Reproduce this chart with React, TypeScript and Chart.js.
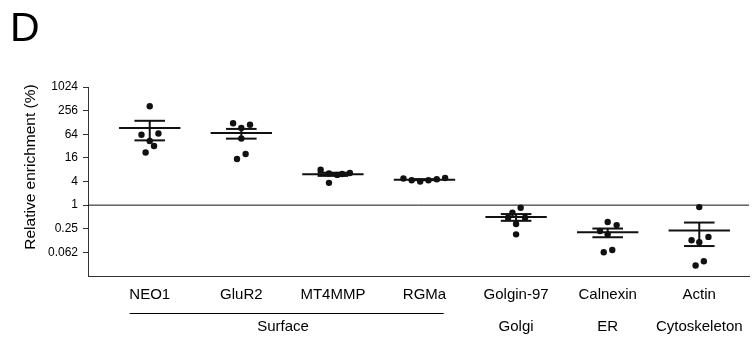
import React, { useEffect, useRef } from 'react';
import { Chart, registerables } from 'chart.js';

Chart.register(...registerables);

const FONT = '"Liberation Sans", Arial, Helvetica, sans-serif';

// ---- data ----
const categories = ['NEO1', 'GluR2', 'MT4MMP', 'RGMa', 'Golgin-97', 'Calnexin', 'Actin'];

const neo1 = [331, 62, 67, 43, 32, 22];
const gluR2 = [122, 112, 92, 50, 20, 15];
const mt4mmp = [8.0, 6.4, 5.9, 6.2, 6.6, 3.7];
const rgma = [4.75, 4.29, 3.98, 4.29, 4.55, 4.92];
const golgin97 = [0.86, 0.64, 0.48, 0.48, 0.33, 0.18];
const calnexin = [0.37, 0.31, 0.22, 0.18, 0.072, 0.063];
const actin = [0.89, 0.127, 0.155, 0.113, 0.037, 0.029];

// horizontal scatter of the dots within a column (category units)
const neo1Jitter = [0, -0.09, 0.095, 0, 0.047, -0.045];
const gluR2Jitter = [-0.09, 0.095, 0, 0, 0.047, -0.047];
const mt4mmpJitter = [-0.134, -0.043, 0.047, 0.1, 0.185, -0.043];
const rgmaJitter = [-0.23, -0.14, -0.047, 0.043, 0.134, 0.225];
const golgin97Jitter = [0.05, -0.04, -0.087, 0.098, 0, 0];
const calnexinJitter = [0, 0.098, -0.084, 0, 0.05, -0.043];
const actinJitter = [0, -0.084, 0.1, 0, 0.05, -0.04];

const yTickValues = [1024, 256, 64, 16, 4, 1, 0.25, 0.0625];
const yTickLabels = ['1024', '256', '64', '16', '4', '1', '0.25', '0.062'];

const groupLabels = ['Surface', 'Golgi', 'ER', 'Cytoskeleton'];
const groupFrom = [0, 4, 5, 6];
const groupTo = [3, 4, 5, 6];

const series = [neo1, gluR2, mt4mmp, rgma, golgin97, calnexin, actin];
const jitters = [neo1Jitter, gluR2Jitter, mt4mmpJitter, rgmaJitter, golgin97Jitter, calnexinJitter, actinJitter];

const X_MIN = -0.674;
const X_MAX = 6.543;
const Y_MIN = 1 / 64;
const Y_MAX = 1024;
const MEAN_HALF = 0.335;
const CAP_HALF = 0.167;
const INK = '#111111';

function mean(a: number[]) {
  return a.reduce((s, v) => s + v, 0) / a.length;
}
function sem(a: number[]) {
  const m = mean(a);
  const v = a.reduce((s, x) => s + (x - m) * (x - m), 0) / (a.length - 1);
  return Math.sqrt(v) / Math.sqrt(a.length);
}

const annotations = {
  id: 'annotations',
  afterDraw(chart: any) {
    const ctx = chart.ctx;
    const xs = chart.scales.x;
    ctx.save();
    ctx.fillStyle = '#000';
    // panel letter
    ctx.font = `41px ${FONT}`;
    ctx.textAlign = 'left';
    ctx.textBaseline = 'alphabetic';
    ctx.fillText('D', 10, 41);
    // y axis title
    ctx.save();
    ctx.translate(31, 167);
    ctx.rotate(-Math.PI / 2);
    ctx.font = `15.5px ${FONT}`;
    ctx.textAlign = 'center';
    ctx.textBaseline = 'middle';
    ctx.fillText('Relative enrichment (%)', 0, 0);
    ctx.restore();
    // group labels
    ctx.font = `15px ${FONT}`;
    ctx.textAlign = 'center';
    ctx.textBaseline = 'alphabetic';
    groupLabels.forEach((g, i) => {
      const span = groupTo[i] > groupFrom[i];
      const cx = (xs.getPixelForValue(groupFrom[i]) + xs.getPixelForValue(groupTo[i])) / 2 - (span ? 4 : 0);
      ctx.fillText(g, cx, 331);
      if (span) {
        ctx.strokeStyle = '#000';
        ctx.lineWidth = 1;
        ctx.beginPath();
        ctx.moveTo(xs.getPixelForValue(groupFrom[i] - 0.22), 313.5);
        ctx.lineTo(xs.getPixelForValue(groupTo[i] + 0.21), 313.5);
        ctx.stroke();
      }
    });
    ctx.restore();
  },
};

export default function App() {
  const ref = useRef<HTMLCanvasElement>(null);

  useEffect(() => {
    document.body.style.margin = '0';
    const canvas = ref.current;
    if (!canvas) return;

    const datasets: any[] = [];
    const seg = (pts: { x: number; y: number }[], width: number) => ({
      type: 'line',
      data: pts,
      borderColor: INK,
      borderWidth: width,
      pointRadius: 0,
      fill: false,
      tension: 0,
      borderCapStyle: 'butt',
    });

    // reference line at 1
    datasets.push(seg([{ x: X_MIN, y: 1 }, { x: X_MAX, y: 1 }], 1));

    series.forEach((vals, i) => {
      const m = mean(vals);
      const s = sem(vals);
      datasets.push(seg([{ x: i - MEAN_HALF, y: m }, { x: i + MEAN_HALF, y: m }], 2));
      datasets.push(seg([{ x: i, y: m - s }, { x: i, y: m + s }], 2));
      datasets.push(seg([{ x: i - CAP_HALF, y: m + s }, { x: i + CAP_HALF, y: m + s }], 2));
      datasets.push(seg([{ x: i - CAP_HALF, y: m - s }, { x: i + CAP_HALF, y: m - s }], 2));
    });

    const points: { x: number; y: number }[] = [];
    series.forEach((vals, i) => {
      vals.forEach((v, j) => points.push({ x: i + jitters[i][j], y: v }));
    });
    datasets.push({
      type: 'scatter',
      data: points,
      backgroundColor: INK,
      borderWidth: 0,
      pointRadius: 3.2,
      showLine: false,
    });

    const chart = new Chart(canvas, {
      type: 'scatter',
      data: { datasets },
      options: {
        responsive: false,
        animation: false,
        events: [],
        layout: { padding: { top: 87, right: 1, bottom: 0, left: 0 } },
        plugins: {
          legend: { display: false },
          tooltip: { enabled: false },
          title: { display: false },
        },
        scales: {
          x: {
            type: 'linear',
            min: X_MIN,
            max: X_MAX,
            afterBuildTicks: (s: any) => {
              s.ticks = categories.map((_, i) => ({ value: i }));
            },
            afterFit: (s: any) => {
              s.height = 63;
            },
            grid: { display: false, drawTicks: false },
            border: { display: true, color: '#333', width: 1 },
            ticks: {
              autoSkip: false,
              maxRotation: 0,
              minRotation: 0,
              padding: 10,
              color: '#000',
              font: { family: FONT, size: 15 },
              callback: (v: any) => categories[Math.round(Number(v))] ?? '',
            },
          },
          y: {
            type: 'logarithmic',
            min: Y_MIN,
            max: Y_MAX,
            afterBuildTicks: (s: any) => {
              s.ticks = yTickValues.map((v) => ({ value: v }));
            },
            afterFit: (s: any) => {
              s.width = 88;
            },
            grid: { drawOnChartArea: false, drawTicks: true, tickLength: 5, color: '#333' },
            border: { display: true, color: '#333', width: 1 },
            ticks: {
              autoSkip: false,
              padding: 5,
              color: '#000',
              font: { family: FONT, size: 12 },
              callback: (v: any) => {
                const idx = yTickValues.findIndex((t) => Math.abs(Math.log(t) - Math.log(Number(v))) < 1e-6);
                return idx >= 0 ? yTickLabels[idx] : '';
              },
            },
          },
        },
      } as any,
      plugins: [annotations],
    });

    return () => chart.destroy();
  }, []);

  return (
    <div style={{ width: 753, height: 339, position: 'relative', background: '#fff' }}>
      <canvas ref={ref} width={753} height={339} style={{ display: 'block', width: 753, height: 339 }} />
    </div>
  );
}
